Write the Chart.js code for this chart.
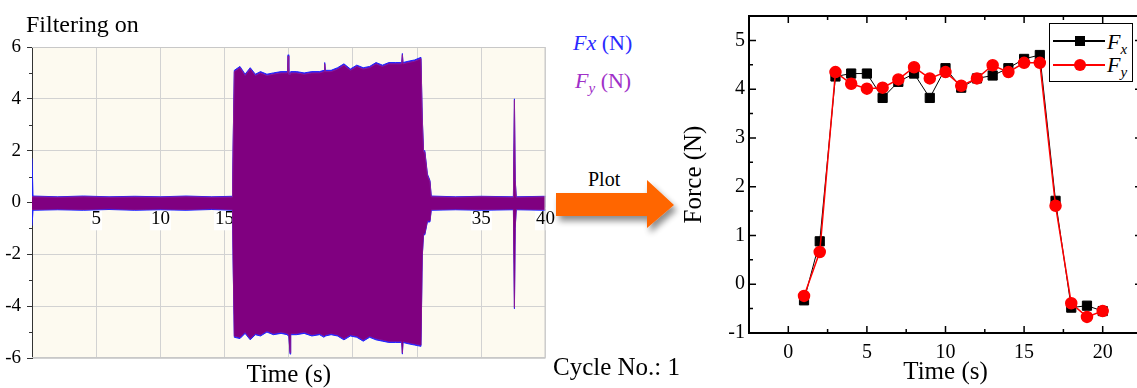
<!DOCTYPE html>
<html>
<head>
<meta charset="utf-8">
<script src="https://cdn.jsdelivr.net/npm/chart.js@4/dist/chart.umd.min.js"></script>
<style>
body{margin:0;width:1137px;height:388px;overflow:hidden;background:#fff;position:relative;font-family:"Liberation Serif","Times New Roman",serif;}
.t{position:absolute;white-space:nowrap;line-height:1;color:#000;}
#leftChart{position:absolute;left:0;top:0;}
#rightChart{position:absolute;left:680px;top:0;}
#arrow{position:absolute;left:550px;top:172px;}
#legend{position:absolute;left:1049px;top:23px;width:82px;height:57px;border:1.5px solid #000;background:#fff;}
.lline{position:absolute;left:3px;width:52px;height:2px;}
.mk{position:absolute;}
</style>
</head>
<body>

<canvas id="leftChart" width="560" height="388"></canvas>
<canvas id="rightChart" width="470" height="388"></canvas>

<div class="t" style="left:26px;top:12px;font-size:24px;">Filtering on</div>
<div class="t" style="left:573px;top:32px;font-size:22px;color:#2a2aff;"><i>Fx</i> (N)</div>
<div class="t" style="left:575px;top:70px;font-size:22px;color:#a030c8;"><i>F</i><sub style="font-size:15px;"><i>y</i></sub> (N)</div>
<div class="t" style="left:588px;top:169px;font-size:20px;">Plot</div>
<div class="t" style="left:553px;top:354px;font-size:25px;">Cycle No.: 1</div>

<svg id="arrow" width="140" height="70">
<defs>
<filter id="sh" x="-20%" y="-30%" width="150%" height="180%">
<feGaussianBlur in="SourceAlpha" stdDeviation="3"/>
<feOffset dx="3" dy="5" result="b"/>
<feComponentTransfer><feFuncA type="linear" slope="0.45"/></feComponentTransfer>
<feMerge><feMergeNode/><feMergeNode in="SourceGraphic"/></feMerge>
</filter>
</defs>
<polygon points="6,21 97,21 97,8 124,33 97,56 97,44 6,44" fill="#ff6600" filter="url(#sh)"/>
</svg>

<div id="legend">
<div class="lline" style="top:16px;background:#000;"></div>
<div class="mk" style="left:25px;top:12px;width:10px;height:10px;background:#000;"></div>
<div class="t" style="left:57px;top:7px;font-size:22px;"><i>F</i><sub style="font-size:15px;"><i>x</i></sub></div>
<div class="lline" style="top:40px;background:#ff0000;"></div>
<div class="mk" style="left:24px;top:35px;width:12px;height:12px;border-radius:50%;background:#ff0000;"></div>
<div class="t" style="left:57px;top:30px;font-size:22px;"><i>F</i><sub style="font-size:15px;"><i>y</i></sub></div>
</div>

<script>
/* LEFT: RECORDED SIGNAL ENVELOPE (Filtering on) */
let sigTime=[0,0.08,2,4,6,8,10,12,14,15.62,15.66,15.76,16.2,16.6,17.0,17.4,17.8,18.3,18.8,19.4,19.9,19.95,20.0,20.1,20.15,20.6,21.2,21.8,22.4,22.75,22.8,22.85,23.3,23.8,24.3,24.8,25.3,25.8,26.3,26.8,27.3,27.8,28.3,28.8,28.85,28.9,29.3,29.8,30.3,30.4,30.5,30.6,30.8,31.0,31.1,33,35,37.5,37.58,37.64,37.72,40];

let fxHigh=[1.7,0.25,0.22,0.25,0.22,0.24,0.22,0.25,0.22,0.24,2.0,5.1,5.25,4.95,5.2,4.95,5.05,4.95,5.0,5.05,5.05,5.7,5.0,5.0,5.05,5.05,5.0,5.05,5.05,5.1,5.4,5.1,5.1,5.2,5.35,5.15,5.3,5.2,5.25,5.4,5.3,5.4,5.4,5.4,5.75,5.4,5.45,5.5,5.6,3.3,2.0,2.0,1.1,0.85,0.25,0.22,0.24,0.22,4.0,0.9,0.22,0.24];
let fxLow=[-0.9,-0.3,-0.28,-0.3,-0.27,-0.3,-0.28,-0.3,-0.27,-0.3,-2.1,-5.2,-5.25,-5.05,-5.3,-5.1,-5.15,-5.0,-5.1,-5.05,-5.1,-5.15,-5.1,-5.85,-5.1,-5.1,-5.05,-5.15,-5.1,-5.2,-5.2,-5.15,-5.1,-5.15,-5.3,-5.15,-5.2,-5.35,-5.2,-5.3,-5.35,-5.4,-5.4,-5.4,-5.85,-5.4,-5.45,-5.5,-5.55,-2.1,-1.25,-1.25,-0.75,-0.75,-0.3,-0.28,-0.3,-0.28,-4.1,-1.0,-0.28,-0.3];

let fyHigh=[0.22,0.22,0.2,0.22,0.2,0.21,0.2,0.22,0.2,0.21,1.95,5.05,5.2,4.9,5.15,4.9,5.0,4.9,4.95,5.0,5.0,5.65,4.95,4.95,5.0,5.0,4.95,5.0,5.0,5.05,5.35,5.05,5.05,5.15,5.3,5.1,5.25,5.15,5.2,5.35,5.25,5.35,5.35,5.35,5.7,5.35,5.4,5.45,5.55,3.25,1.95,1.95,1.05,0.8,0.22,0.2,0.22,0.2,3.95,0.85,0.2,0.22];
let fyLow=[-0.27,-0.27,-0.25,-0.27,-0.24,-0.27,-0.25,-0.27,-0.24,-0.27,-2.05,-5.15,-5.2,-5.0,-5.25,-5.05,-5.1,-4.95,-5.05,-5.0,-5.05,-5.1,-5.05,-5.8,-5.05,-5.05,-5.0,-5.1,-5.05,-5.15,-5.15,-5.1,-5.05,-5.1,-5.25,-5.1,-5.15,-5.3,-5.15,-5.25,-5.3,-5.35,-5.35,-5.35,-5.8,-5.35,-5.4,-5.45,-5.5,-2.05,-1.2,-1.2,-0.7,-0.7,-0.27,-0.25,-0.27,-0.25,-4.05,-0.95,-0.25,-0.27];

/* RIGHT: FORCE PER SECOND */
let cycleTime=[1,2,3,4,5,6,7,8,9,10,11,12,13,14,15,16,17,18,19,20];
let fxForce=[-0.33,0.88,4.26,4.32,4.32,3.82,4.15,4.32,3.82,4.43,4.03,4.22,4.28,4.43,4.62,4.7,1.71,-0.48,-0.44,-0.55];
let fyForce=[-0.24,0.66,4.35,4.11,4.01,4.03,4.2,4.45,4.22,4.35,4.07,4.22,4.49,4.35,4.54,4.54,1.61,-0.39,-0.67,-0.55];
let rightXTicks=[0,5,10,15,20];
let rightYTicks=[-1,0,1,2,3,4,5];

Chart.defaults.font.family='"Liberation Serif","Times New Roman",serif';
Chart.defaults.color='#000';
Chart.defaults.animation=false;

function pts(xs,ys){ return xs.map((x,i)=>({x:x,y:ys[i]})); }

/* cream plot area with grey frame + minor ticks on y axis */
let creamFrame={
id:'creamFrame',
beforeDraw(c){
let {ctx,chartArea:a}=c;
ctx.save();
ctx.fillStyle='#fdfaf0';
ctx.fillRect(a.left,a.top,a.width,a.height);
ctx.restore();
},
afterDraw(c){
let {ctx,chartArea:a,scales:{y}}=c;
ctx.save();
ctx.strokeStyle='#c8c8c8';ctx.lineWidth=1;
ctx.beginPath();
ctx.moveTo(a.left,a.top+0.5);ctx.lineTo(a.right-0.5,a.top+0.5);
ctx.lineTo(a.right-0.5,a.bottom-0.5);ctx.lineTo(a.left,a.bottom-0.5);
ctx.stroke();
ctx.strokeStyle='#333';
ctx.beginPath();
for(let v=-5;v<=5;v+=2){
let py=Math.round(y.getPixelForValue(v))+0.5;
ctx.moveTo(a.left-3,py);ctx.lineTo(a.left,py);
}
ctx.stroke();
ctx.restore();
}
};

new Chart(document.getElementById('leftChart'),{
type:'line',
data:{datasets:[
{label:'Fy high',data:pts(sigTime,fyHigh),borderColor:'#8a1a9a',backgroundColor:'#800080',fill:'+1'},
{label:'Fy low',data:pts(sigTime,fyLow),borderColor:'#8a1a9a',fill:false},
{label:'Fx high',data:pts(sigTime,fxHigh),borderColor:'#2020ff',backgroundColor:'#2020ff',fill:'+1'},
{label:'Fx low',data:pts(sigTime,fxLow),borderColor:'#2020ff',fill:false}
]},
options:{
responsive:false,
layout:{padding:{top:47,right:13,left:0,bottom:0}},
elements:{point:{radius:0},line:{borderWidth:1,tension:0}},
plugins:{legend:{display:false},tooltip:{enabled:false}},
scales:{
x:{type:'linear',min:0,max:40,position:{y:0},
afterBuildTicks(s){ s.ticks=s.ticks.filter(t=>t.value!==0); },
ticks:{stepSize:5,padding:5,font:{size:19},showLabelBackdrop:true,backdropColor:'#ffffff',backdropPadding:{x:1,y:0}},
grid:{color:'#d2d2d2',drawTicks:false},
border:{display:false}},
x2:{type:'linear',min:0,max:40,position:'bottom',
afterFit(s){ s.height=30; },
ticks:{display:false},grid:{display:false},border:{display:false},
title:{display:true,text:'Time (s)',font:{size:25,lineHeight:1},padding:{top:0,bottom:0}}},
y:{min:-6,max:6,
afterFit(s){ s.width=32; },
ticks:{stepSize:2,padding:6,font:{size:19}},
grid:{color:'#d2d2d2',tickColor:'#333',tickLength:5},
border:{color:'#333',width:1}}
}
},
plugins:[creamFrame]
});

/* box frame with inward ticks (major + minor) on all four sides */
let boxTicks={
id:'boxTicks',
afterDraw(c){
let {ctx,chartArea:a,scales:{x,y}}=c;
ctx.save();
ctx.strokeStyle='#000';
ctx.lineWidth=1.5;
ctx.beginPath();
let xm=[rightXTicks[0]-2.5].concat(rightXTicks.map(v=>v+2.5));
rightXTicks.map(v=>[v,7]).concat(xm.map(v=>[v,4])).forEach(([val,len])=>{
if(val<x.min||val>x.max) return;
let px=x.getPixelForValue(val);
ctx.moveTo(px,a.bottom);ctx.lineTo(px,a.bottom-len);
ctx.moveTo(px,a.top);ctx.lineTo(px,a.top+len);
});
let ym=rightYTicks.map(v=>v+0.5);
rightYTicks.map(v=>[v,7]).concat(ym.map(v=>[v,4])).forEach(([val,len])=>{
if(val<y.min||val>y.max) return;
let py=y.getPixelForValue(val);
ctx.moveTo(a.left,py);ctx.lineTo(a.left+len,py);
ctx.moveTo(a.right,py);ctx.lineTo(a.right-len,py);
});
ctx.stroke();
ctx.lineWidth=2;
ctx.strokeRect(a.left,a.top,a.width,a.height);
ctx.restore();
}
};

new Chart(document.getElementById('rightChart'),{
type:'line',
data:{datasets:[
{label:'Fy',data:pts(cycleTime,fyForce),borderColor:'#ff0000',backgroundColor:'#ff0000',borderWidth:1.5,pointStyle:'circle',pointRadius:5.5},
{label:'Fx',data:pts(cycleTime,fxForce),borderColor:'#000',backgroundColor:'#000',borderWidth:1,pointStyle:'rect',pointRadius:6.5}
]},
options:{
responsive:false,
layout:{padding:{top:16,right:8,left:0,bottom:0}},
elements:{line:{tension:0},point:{borderWidth:0}},
plugins:{legend:{display:false},tooltip:{enabled:false}},
scales:{
x:{type:'linear',min:-2.5,max:22.5,
afterBuildTicks(s){ s.ticks=rightXTicks.map(v=>({value:v})); },
afterFit(s){ s.height=55; },
ticks:{padding:8,font:{size:20}},
grid:{display:false,drawTicks:false},
border:{display:false},
title:{display:true,text:'Time (s)',font:{size:25,lineHeight:1},padding:{top:0,bottom:3}}},
y:{min:-1,max:5.5,
afterBuildTicks(s){ s.ticks=rightYTicks.map(v=>({value:v})); },
afterFit(s){ s.width=69; },
ticks:{padding:4,font:{size:20}},
grid:{display:false,drawTicks:false},
border:{display:false},
title:{display:true,text:'Force (N)',font:{size:25,lineHeight:1},padding:{top:2,bottom:0}}}
}
},
plugins:[boxTicks]
});
</script>
</body>
</html>
